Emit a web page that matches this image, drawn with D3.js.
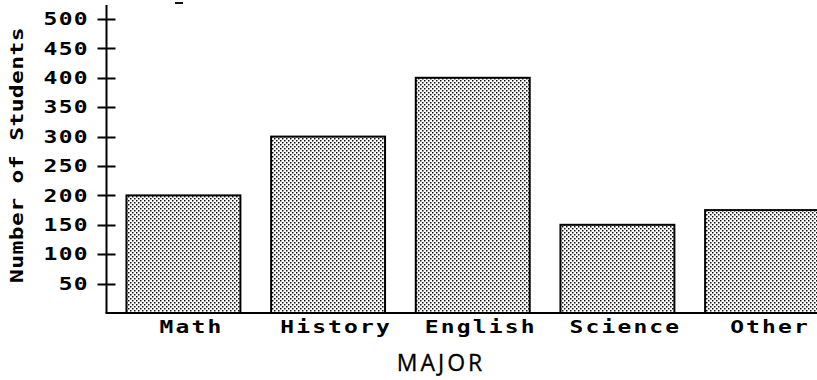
<!DOCTYPE html>
<html><head><meta charset="utf-8">
<script src="https://cdn.jsdelivr.net/npm/d3@7"></script>
<style>html,body{margin:0;padding:0;background:#fff;overflow:hidden}</style>
</head><body>
<script>
const categories = ["Math", "History", "English", "Science", "Other"];
const values = [200, 300, 400, 150, 175];
const yTickValues = [50, 100, 150, 200, 250, 300, 350, 400, 450, 500];
const yTitle = "Number of Students";
const xTitle = "MAJOR";

const W = 817, H = 380;
const svg = d3.select("body").append("svg").attr("width", W).attr("height", H)
  .style("display","block");

const defs = svg.append("defs");
const pat = defs.append("pattern").attr("id","dots").attr("patternUnits","userSpaceOnUse")
  .attr("width",4).attr("height",4);
pat.append("rect").attr("width",4).attr("height",4).attr("fill","#fff");
pat.append("rect").attr("x",0).attr("y",0).attr("width",1.5).attr("height",1.5).attr("fill","#111");
pat.append("rect").attr("x",2).attr("y",2).attr("width",1.5).attr("height",1.5).attr("fill","#111");

const axisX = 106.5, baseY = 313;
const y = d3.scaleLinear().domain([0, 500]).range([baseY, 19]);
const x = d3.scaleBand().domain(categories).range([axisX, 839])
  .paddingInner(0.2124).paddingOuter(0.138);

const mono = "'DejaVu Sans Mono', 'Liberation Mono', monospace";
const SX = 1.35;

// bars
svg.append("g").selectAll("rect").data(values).join("rect")
  .attr("x", (d,i) => x(categories[i]))
  .attr("y", d => y(d))
  .attr("width", x.bandwidth())
  .attr("height", d => baseY - y(d))
  .attr("fill", "url(#dots)")
  .attr("stroke", "#000").attr("stroke-width", 2);

// axes lines
svg.append("line").attr("x1", axisX).attr("x2", axisX).attr("y1", 5).attr("y2", baseY)
  .attr("stroke","#000").attr("stroke-width",2);
svg.append("line").attr("x1", axisX - 1).attr("x2", W).attr("y1", baseY).attr("y2", baseY)
  .attr("stroke","#000").attr("stroke-width",2);

// y ticks
const yt = svg.append("g");
yt.selectAll("line").data(yTickValues).join("line")
  .attr("x1", axisX - 9).attr("x2", axisX + 9)
  .attr("y1", d => Math.round(y(d)) + 0.5).attr("y2", d => Math.round(y(d)) + 0.5)
  .attr("stroke","#000").attr("stroke-width",2);
yt.selectAll("text").data(yTickValues).join("text")
  .attr("transform", d => `translate(89,${y(d)}) scale(${SX},1)`)
  .attr("dy", "0.36em")
  .attr("text-anchor","end")
  .attr("font-family", mono).attr("font-weight","bold").attr("font-size",17)
  .attr("letter-spacing", 1)
  .text(d => d);

// x labels
svg.append("g").selectAll("text").data(categories).join("text")
  .attr("transform", d => `translate(${x(d) + x.bandwidth()/2 + 8},333) scale(${SX},1)`)
  .attr("text-anchor","middle")
  .attr("font-family", mono).attr("font-weight","bold").attr("font-size",17)
  .attr("letter-spacing", 1.6)
  .text(d => d);

// y title
svg.append("text")
  .attr("transform", `translate(23,155) rotate(-90) scale(${SX},1)`)
  .attr("text-anchor","middle")
  .attr("font-family", mono).attr("font-weight","bold").attr("font-size",17)
  .attr("letter-spacing", 0.3)
  .text(yTitle);

// x title
svg.append("text")
  .attr("x", 441).attr("y", 371)
  .attr("text-anchor","middle")
  .attr("font-family", "'Open Sans', 'Noto Sans', sans-serif").attr("font-size",23)
  .attr("letter-spacing", 3)
  .attr("fill","#000").attr("stroke","#000").attr("stroke-width",0.3)
  .text(xTitle);

// small mark at top (remnant of clipped title)
svg.append("line").attr("x1", 175).attr("x2", 183).attr("y1", 3).attr("y2", 3)
  .attr("stroke","#111").attr("stroke-width",2);
</script>
</body></html>
